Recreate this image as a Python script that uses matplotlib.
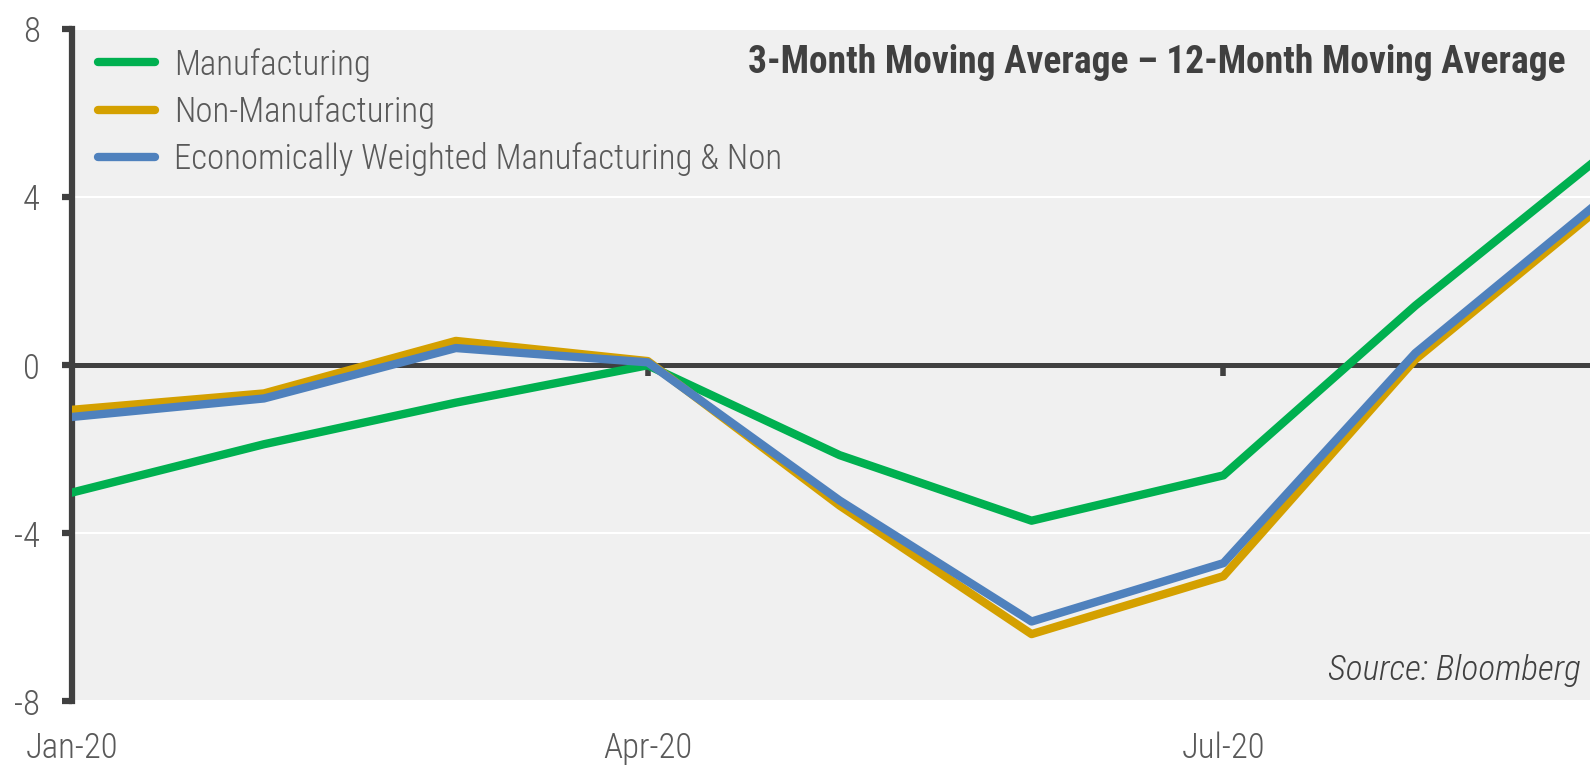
import numpy as np
import matplotlib
matplotlib.use("Agg")
import matplotlib.pyplot as plt

plt.rcParams['font.family'] = ['Roboto Condensed', 'Liberation Sans Narrow', 'DejaVu Sans']
plt.rcParams['font.stretch'] = 'condensed'

months = ['Jan-20', 'Feb-20', 'Mar-20', 'Apr-20', 'May-20', 'Jun-20', 'Jul-20', 'Aug-20', 'Sep-20']
manufacturing = [-3.03, -1.88, -0.89, 0.0, -2.14, -3.70, -2.62, 1.42, 5.10]
non_manufacturing = [-1.06, -0.67, 0.58, 0.10, -3.34, -6.40, -5.02, 0.14, 3.90]
weighted = [-1.23, -0.79, 0.41, 0.07, -3.22, -6.10, -4.71, 0.29, 4.05]

tick_months = ['Jan-20', 'Apr-20', 'Jul-20']
y_ticks = [-8, -4, 0, 4, 8]

DARK = '#404040'
TEXT = '#595959'

x = np.arange(len(months))

fig = plt.figure(figsize=(15.9, 7.69), dpi=100)
ax = fig.add_axes([0.0453, 0.088, 0.9547, 0.874])
ax.set_facecolor('#f0f0f0')

ax.axhline(0, color=DARK, lw=3.6, zorder=2)
ax.plot(x, manufacturing, color='#00b050', lw=6, label='Manufacturing', zorder=3)
ax.plot(x, non_manufacturing, color='#d4a000', lw=6, label='Non-Manufacturing', zorder=4)
ax.plot(x, weighted, color='#4f81bd', lw=6, label='Economically Weighted Manufacturing & Non', zorder=5)

ax.set_xlim(0, 7.91)
ax.set_ylim(-8, 8)
ax.set_yticks(y_ticks)
ax.set_yticklabels([str(v) for v in y_ticks], fontweight='light')
ax.set_xticks([months.index(m) for m in tick_months])
ax.set_xticklabels(tick_months, fontweight='light')

ax.yaxis.grid(True, color='white', lw=1.5)
ax.set_axisbelow(True)

for s in ['top', 'right', 'bottom']:
    ax.spines[s].set_visible(False)
ax.spines['left'].set_color(DARK)
ax.spines['left'].set_linewidth(4.5)

ax.tick_params(axis='y', colors=DARK, length=7, width=4.5, labelcolor=TEXT, labelsize=25, pad=16)
ax.tick_params(axis='x', length=0, labelcolor=TEXT, labelsize=25, pad=22)

# quarter ticks on the zero line
sec = ax.secondary_xaxis(0.5)
sec.set_xticks([months.index(m) for m in tick_months])
sec.set_xticklabels([])
sec.spines['bottom'].set_visible(False)
sec.spines['top'].set_visible(False)
sec.tick_params(axis='x', direction='in', length=8, width=4, colors=DARK)

leg = ax.legend(loc='upper left', frameon=False, prop={'size': 25, 'weight': 'light'},
                handlelength=1.65, handletextpad=0.55, labelspacing=0.39,
                borderaxespad=0.0, bbox_to_anchor=(0.008, 0.993))
for line in leg.get_lines():
    line.set_solid_capstyle('round')
    line.set_linewidth(6)
for t in leg.get_texts():
    t.set_color(TEXT)

ax.text(0.984, 0.95, '3-Month Moving Average \u2013 12-Month Moving Average', transform=ax.transAxes,
        ha='right', va='center', fontsize=27, fontweight='bold', color=DARK)
ax.text(0.994, 0.046, 'Source: Bloomberg', transform=ax.transAxes, ha='right', va='center',
        fontsize=25.5, style='italic', fontweight='light', color=DARK)

fig.savefig('out.png', dpi=100)
